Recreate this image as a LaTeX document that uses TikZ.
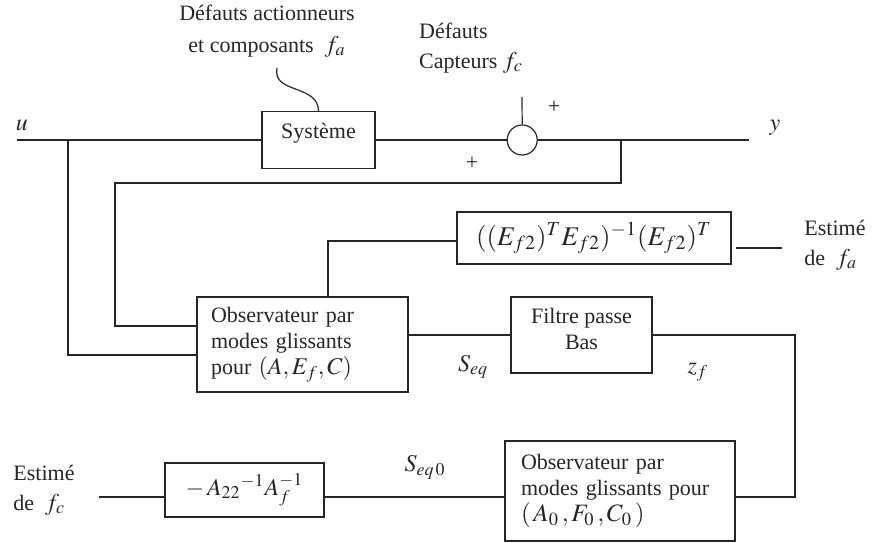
\documentclass[tikz,border=0pt]{standalone}
\usepackage{mathptmx}
\usepackage{fontspec}
\setmainfont{Liberation Serif}
\usetikzlibrary{positioning}

\begin{document}
\begin{tikzpicture}[
    x=0.5pt, y=-0.5pt,
    line width=0.6pt, color=black!85,
    font=\fontsize{11}{13}\selectfont,
    box/.style={draw, rectangle, inner sep=2pt, align=center},
    obsbox/.style={draw, rectangle, align=left, inner ysep=3pt},
    lab/.style={inner sep=1pt, align=left},
    big/.style={font=\fontsize{12}{14}\selectfont}
]
    \useasboundingbox (0,0) rectangle (872,542);

    % blocs
    \node[box, minimum width=56.5pt, minimum height=28.5pt, text depth=9pt] (sys) at (318.5,140) {Système};
    \node[circle, draw, minimum size=15pt, inner sep=0pt] (sum) [right=65.5pt of sys] {};
    \node[box, minimum width=137pt, minimum height=26pt, font=\fontsize{13.5}{16}\selectfont] (ebox) at (594,238)
        {$((E_{f2})^T E_{f2})^{-1}(E_{f2})^T$};
    \node[obsbox, inner xsep=7pt, text width=91.5pt, minimum height=47.5pt] (obs1) at (302.5,344.5)
        {Observateur par\\modes glissants\\pour {\fontsize{12}{13}\selectfont$(A,E_f,C)$}};
    \node[box, minimum width=70.5pt, minimum height=38pt, text depth=6pt] (filt) at (581.5,335) {Filtre passe\\Bas};
    \node[obsbox, inner xsep=8pt, text width=99pt, minimum height=50pt] (obs2) at (620,491)
        {Observateur par\\modes glissants pour\\{\fontsize{12.5}{14}\selectfont$(\,A_0\,,F_0\,,C_0\,)$}};
    \node[box, big, minimum width=79.5pt, minimum height=27pt] (ma) at (244.5,490) {$-\,A_{22}{}^{-1}A_f^{-1}$};

    % textes
    \node[big] (ulab) at (22,125) {$u$};
    \node[big] (ylab) at (775,128) {$y$};
    \node[lab, align=center] (fa) at (267,31) {Défauts actionneurs\\[3pt]et composants\ \ {\large$f_a$}};
    \node[lab] (fc) at (471,48) {Défauts\\[2pt]Capteurs {\large$f_c$}};
    \node (p1) at (554,107) {+};
    \node (p2) at (472,163) {+};
    \node[lab] (estfa) at (835,245) {Estimé\\[2pt]de\ \ {\large$f_a$}};
    \node[lab] (estfc) at (44,490) {Estimé\\[2pt]de\ \ {\large$f_c$}};
    \node[big] (seq) at (473,367) {$S_{eq}$};
    \node[big] (zf) at (698,372) {$z_f$};
    \node[big] (seq0) at (425,467) {$S_{eq\,0}$};

    % points
    \coordinate (ustart) at (17,140);
    \coordinate (ubr) at (68,140);
    \coordinate (ubot) at (68,355);
    \coordinate (yend) at (749,140);
    \coordinate (ybr) at (621,140);
    \coordinate (fbtop) at (115,183);
    \coordinate (fbin) at (115,326);
    \coordinate (ecorner) at (328,241);
    \coordinate (faend) at (782,248);
    \coordinate (zc) at (795,497);
    \coordinate (fcend) at (99,497);
    \coordinate (fcline) at (522,97);
    \coordinate (fatail) at (277,68);

    % liaisons
    \draw (ustart) -- (sys.west);
    \draw (sys.east) -- (sum.west);
    \draw (sum.east) -- (yend);
    \draw (fcline) -- (sum.north);
    \draw (fatail) .. controls (272,94) and (318,84) .. (sys.north);
    \draw (ybr) |- (fbtop) -- (fbin) -- (obs1.west |- fbin);
    \draw (ubr) -- (ubot) -- (obs1.west |- ubot);
    \draw (obs1.north -| ecorner) -- (ecorner) -- (ebox.west |- ecorner);
    \draw ([xshift=2pt]ebox.east |- faend) -- (faend);
    \draw (obs1.east |- filt.west) -- (filt.west);
    \draw (filt.east) -| (zc) -- (obs2.east |- zc);
    \draw (obs2.west |- zc) -- (ma.east |- zc);
    \draw (ma.west |- zc) -- (fcend);
\end{tikzpicture}
\end{document}
